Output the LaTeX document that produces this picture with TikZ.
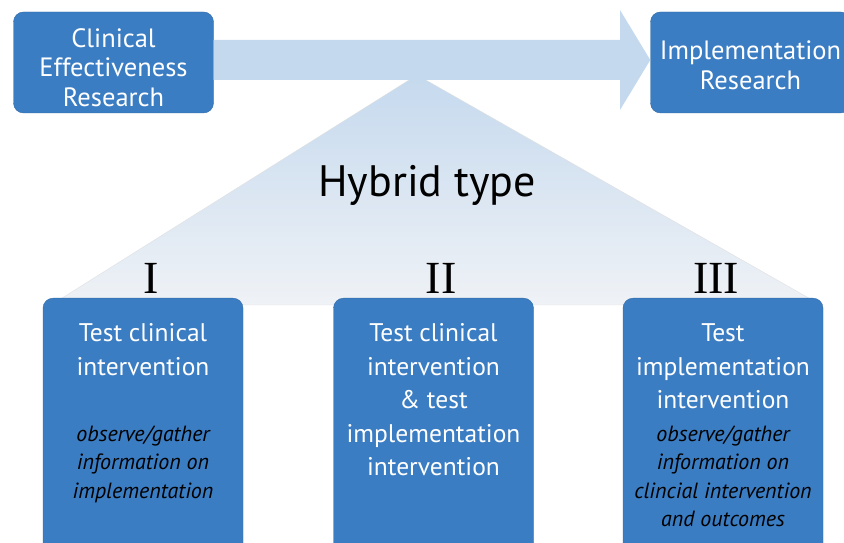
\documentclass[tikz,border=0pt]{standalone}
\usepackage{fontspec}
\setmainfont{PT Sans}
\newfontfamily\numfont{Liberation Serif}
\usetikzlibrary{positioning}
\definecolor{boxblue}{HTML}{3B7DC3}
\definecolor{arrowblue}{HTML}{C5D9EE}
\definecolor{fadegray}{HTML}{EFF2F6}
\tikzset{
  stage/.style={
  fill=boxblue,
  draw=boxblue!85!black,
  rounded corners=10pt,
  minimum width=200pt,
  minimum height=101pt,
  inner sep=0pt,
  },
  column/.style={stage, minimum height=280pt, anchor=north},
  stagetext/.style={text=white, align=center, inner sep=0pt,
    font=\fontsize{26.5}{29.5}\selectfont},
  coltext/.style={text=white, align=center, inner sep=0pt,
    font=\fontsize{25.5}{33.5}\selectfont},
  notetext/.style={align=center, inner sep=0pt,
    font=\itshape\fontsize{22}{28.5}\selectfont},
  numeral/.style={font=\numfont\fontsize{46}{46}\selectfont, inner sep=0pt, anchor=base},
}
\begin{document}
\begin{tikzpicture}[x=1pt,y=1pt]
\clip (0,0) rectangle (844,543);

% the hybrid triangle
\shade[top color=arrowblue, bottom color=fadegray, draw=black!12] (417,468) -- (821,238) -- (51,238) -- cycle;
\node[font=\fontsize{44}{44}\selectfont] (hybrid) at (427,358) {Hybrid type};

% research boxes and the arrow between them
\node[stage] (cer) at (113.5,480.5) {};
\node[stage] (ir) at (750.5,480.5) {};
\node[stagetext] (certext) at ([yshift=-5pt]cer.center) {Clinical\\Effectiveness\\Research};
\node[stagetext] (irtext) at ([yshift=-3pt]ir.center) {Implementation\\Research};
\fill[arrowblue] (cer.east |- 0,503) -- (620,503) -- (620,533) -- (ir.west |- 0,483)
  -- (620,433) -- (620,463) -- (cer.east |- 0,463) -- cycle;

% the three types
\node[column] (c1) at (143,245) {};
\node[column] (c2) at (433.5,245) {};
\node[column] (c3) at (723,245) {};

\node[numeral] (n1) at (151,249) {I};
\node[numeral] (n2) at (441,249) {II};
\node[numeral] (n3) at (716,249) {III};

\node[coltext, below=25.5pt of c1.north] (t1) {Test clinical\\intervention};
\node[coltext, below=25.5pt of c2.north] (t2) {Test clinical\\intervention\\\& test\\implementation\\intervention};
\node[coltext, below=25.5pt of c3.north] (t3) {Test\\implementation\\intervention};

\node[notetext, below=127.5pt of c1.north] (o1) {observe/gather\\information on\\implementation};
\node[notetext, below=127.5pt of c3.north] (o3) {observe/gather\\information on\\clincial intervention\\and outcomes};

\end{tikzpicture}
\end{document}
